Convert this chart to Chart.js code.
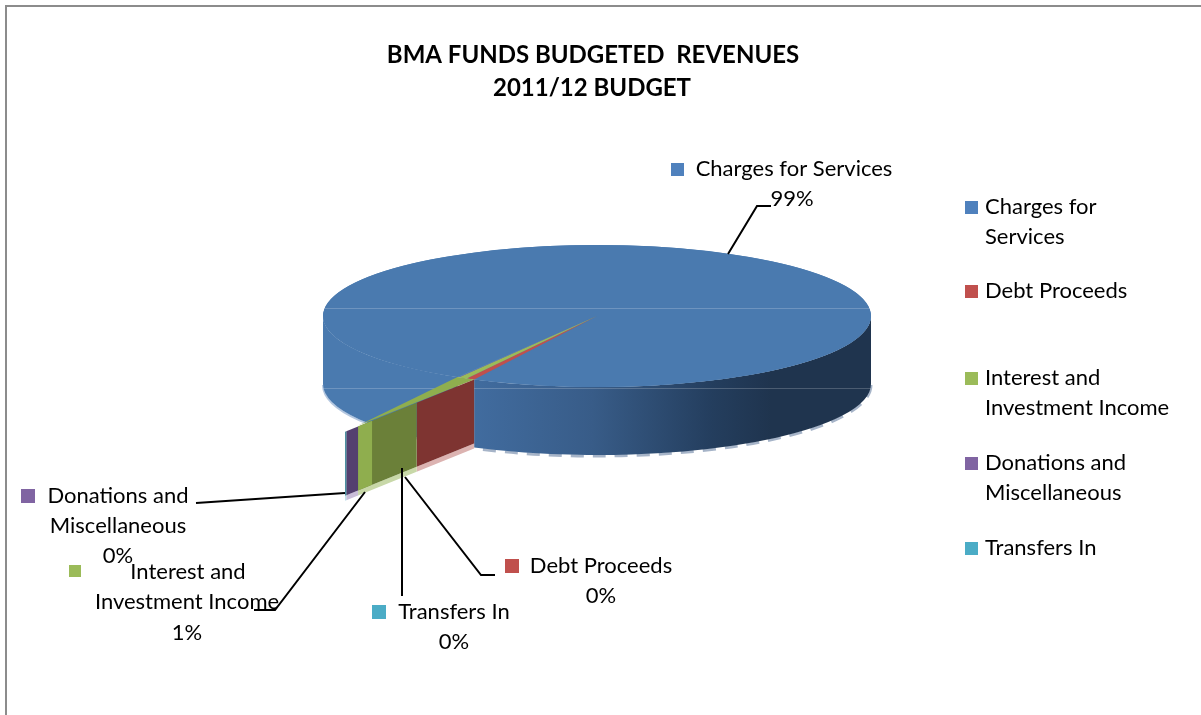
<!DOCTYPE html>
<html>
<head>
<meta charset="utf-8">
<title>BMA Funds Budgeted Revenues</title>
<script src="https://cdn.jsdelivr.net/npm/chart.js@4"></script>
<style>
  body { margin: 0; background: #fff; }
  canvas { display: block; }
</style>
</head>
<body>
<canvas id="pieChart" width="1201" height="715"></canvas>
<script>
const titleLines = ['BMA FUNDS BUDGETED  REVENUES', '2011/12 BUDGET'];
const categories = ['Charges for Services', 'Debt Proceeds', 'Interest and Investment Income', 'Donations and Miscellaneous', 'Transfers In'];
const legendLines = [['Charges for', 'Services'], ['Debt Proceeds'], ['Interest and', 'Investment Income'], ['Donations and', 'Miscellaneous'], ['Transfers In']];
const budgetShare = [98.9, 0.49, 0.5, 0.1, 0.01];
const sliceColors = ['#4a7aaf', '#c0504d', '#9bbb59', '#8064a2', '#4bacc6'];
const swatchColors = ['#4f81bd', '#c0504d', '#9bbb59', '#8064a2', '#4bacc6'];

const FONT = 'Lato, sans-serif';
const cx = 597, cy = 316, rx = 274, ry = 71, depth = 68;

// where each outside label sits: swatch x/y, then text lines as [centre x, y]
const callouts = [
    { swatch: [671, 163], size: 13, lines: [[794, 169], [792, 199]], text: ['Charges for Services'] },
    { swatch: [505, 559], size: 14, lines: [[601, 566], [601, 596]], text: ['Debt Proceeds'] },
    { swatch: [69, 565], size: 12, lines: [[188, 572], [187, 602], [187, 633]], text: ['Interest and', 'Investment Income'] },
    { swatch: [21, 489], size: 14, lines: [[118, 496], [118, 526], [118, 556]], text: ['Donations and', 'Miscellaneous'] },
    { swatch: [372, 605], size: 14, lines: [[454, 612], [454, 642]], text: ['Transfers In'] }
];
const leaders = [
    [[728, 254], [757, 206], [771, 206]],
    [[405, 477], [481, 575], [495, 575]],
    [[365, 492], [275, 610], [254, 610]],
    [[345, 493], [196, 503]],
    [[402, 468], [402, 596]]
];
const legendY = [207, 291, 378, 463, 548];

function sidePath(ctx, a, b) {
    ctx.beginPath();
    ctx.ellipse(cx, cy, rx, ry, 0, a, b);
    ctx.ellipse(cx, cy + depth, rx, ry, 0, b, a, true);
    ctx.closePath();
}

function rimPoint(angle) {
    return [cx + rx * Math.cos(angle), cy + ry * Math.sin(angle)];
}

const pie3d = {
    id: 'pie3d',
    beforeDraw(chart) {
        const ctx = chart.ctx;
        ctx.fillStyle = '#fff';
        ctx.fillRect(0, 0, chart.width, chart.height);
        ctx.fillStyle = '#8c8c8c';
        ctx.fillRect(5, 5, 1196, 2);
        ctx.fillRect(5, 5, 2, 710);
    },
    beforeDatasetsDraw(chart) {
        const ctx = chart.ctx;
        const arcs = chart.getDatasetMeta(0).data;
        const blue = arcs[0];

        // rim shadow under the side wall
        ctx.save();
        ctx.lineWidth = 2;
        ctx.strokeStyle = '#b4c7e0';
        ctx.beginPath();
        ctx.ellipse(cx, cy + depth + 1, rx, ry, 0, blue.startAngle, Math.PI);
        ctx.stroke();
        ctx.lineWidth = 3;
        ctx.strokeStyle = '#a6b4c8';
        ctx.setLineDash([13, 9]);
        ctx.beginPath();
        ctx.ellipse(cx, cy + depth + 1, rx, ry, 0, 0, blue.endAngle - 2 * Math.PI);
        ctx.stroke();
        ctx.restore();

        const shade = ctx.createLinearGradient(473, 0, 871, 0);
        shade.addColorStop(0, '#416c9f');
        shade.addColorStop(0.3, '#385c88');
        shade.addColorStop(0.6, '#243e5e');
        shade.addColorStop(0.75, '#1f344e');
        shade.addColorStop(1, '#1f344e');
        ctx.fillStyle = shade;
        sidePath(ctx, 0, blue.endAngle - 2 * Math.PI);
        ctx.fill();
        ctx.fillStyle = '#4a7aaf';
        sidePath(ctx, blue.startAngle, Math.PI);
        ctx.fill();
        // no seam between wall and top face
        ctx.beginPath();
        ctx.ellipse(cx, cy, rx, ry, 0, 0, 2 * Math.PI);
        ctx.fill();

        // squash the library's arcs into the tilted top face
        ctx.save();
        ctx.translate(cx, cy);
        ctx.scale(1, ry / rx);
        ctx.translate(-cx, -cy);
    },
    afterDatasetsDraw(chart) {
        const ctx = chart.ctx;
        ctx.restore();
        const arcs = chart.getDatasetMeta(0).data;

        ctx.strokeStyle = 'rgba(255,255,255,0.2)';
        ctx.lineWidth = 1;
        [308.5, 388.5].forEach(y => {
            ctx.beginPath();
            ctx.moveTo(323, y);
            ctx.lineTo(871, y);
            ctx.stroke();
        });

        // small slices stand out as a flat strip towards the lower left
        const smallTotal = budgetShare.slice(1).reduce((a, b) => a + b, 0);
        const start = rimPoint(arcs[0].endAngle - 2 * Math.PI);
        const far = rimPoint(arcs[0].startAngle);
        const stripLen = 129, slope = 0.405, wall = 64;
        const wallColors = ['#7e3431', '#6b8039', '#54406f', '#2f7f92'];
        const paleColors = ['#dcb3b1', '#c8d8a8', '#c9bdd8', '#b7dce5'];
        ctx.fillStyle = '#8fae4e';
        ctx.beginPath();
        ctx.moveTo(start[0], start[1]);
        ctx.lineTo(far[0], far[1]);
        ctx.lineTo(start[0] - 116, start[1] + 116 * slope - 1);
        ctx.closePath();
        ctx.fill();

        let run = 0;
        budgetShare.slice(1).forEach((v, i) => {
            const x0 = start[0] - run / smallTotal * stripLen;
            run += v;
            const x1 = start[0] - run / smallTotal * stripLen;
            const y0 = start[1] + (start[0] - x0) * slope;
            const y1 = start[1] + (start[0] - x1) * slope;
            ctx.fillStyle = paleColors[i];
            ctx.beginPath();
            ctx.moveTo(x0, y0 + wall);
            ctx.lineTo(x1, y1 + wall);
            ctx.lineTo(x1, y1 + wall + 5);
            ctx.lineTo(x0, y0 + wall + 5);
            ctx.closePath();
            ctx.fill();
            ctx.fillStyle = wallColors[i];
            ctx.beginPath();
            ctx.moveTo(x0, y0);
            ctx.lineTo(x1, y1);
            ctx.lineTo(x1, y1 + wall);
            ctx.lineTo(x0, y0 + wall);
            ctx.closePath();
            ctx.fill();
            if (i === 1) {
                // lit end of the green slice
                const xe = x1 + 14;
                const ye = start[1] + (start[0] - xe) * slope;
                ctx.fillStyle = '#8fae4e';
                ctx.beginPath();
                ctx.moveTo(xe, ye);
                ctx.lineTo(x1, y1);
                ctx.lineTo(x1, y1 + wall);
                ctx.lineTo(xe, ye + wall);
                ctx.closePath();
                ctx.fill();
            }
        });

        ctx.strokeStyle = '#000';
        ctx.lineWidth = 2;
        leaders.forEach(pts => {
            ctx.beginPath();
            pts.forEach((p, i) => i ? ctx.lineTo(p[0], p[1]) : ctx.moveTo(p[0], p[1]));
            ctx.stroke();
        });

        // text
        ctx.fillStyle = '#000';
        ctx.textBaseline = 'middle';
        ctx.textAlign = 'center';
        ctx.font = 'bold 24px ' + FONT;
        ctx.fillText(titleLines[0], 593, 55);
        ctx.fillText(titleLines[1], 592, 88);

        ctx.font = '22px ' + FONT;
        const total = budgetShare.reduce((a, b) => a + b, 0);
        callouts.forEach((c, i) => {
            ctx.fillStyle = swatchColors[i];
            ctx.fillRect(c.swatch[0], c.swatch[1], c.size, c.size);
            ctx.fillStyle = '#000';
            const rows = c.text.concat(Math.round(budgetShare[i] / total * 100) + '%');
            rows.forEach((t, j) => ctx.fillText(t, c.lines[j][0], c.lines[j][1]));
        });

        ctx.textAlign = 'left';
        legendLines.forEach((rows, i) => {
            ctx.fillStyle = swatchColors[i];
            ctx.fillRect(965, legendY[i] - 6, 13, 13);
            ctx.fillStyle = '#000';
            rows.forEach((t, j) => ctx.fillText(t, 985, legendY[i] + j * 30));
        });
    }
};

const ctx = document.getElementById('pieChart').getContext('2d');

const pieChart = new Chart(ctx, {
    type: 'pie',
    data: {
        labels: categories,
        datasets: [{
            data: budgetShare,
            backgroundColor: sliceColors,
            borderWidth: 0,
            hoverOffset: 0
        }]
    },
    options: {
        responsive: false,
        animation: false,
        rotation: 210.6,
        layout: { padding: { left: cx - rx, right: 1201 - cx - rx, top: cy - rx, bottom: 715 - cy - rx } },
        plugins: {
            legend: { display: false },
            title: { display: false },
            tooltip: { enabled: false }
        }
    },
    plugins: [pie3d]
});
</script>
</body>
</html>
